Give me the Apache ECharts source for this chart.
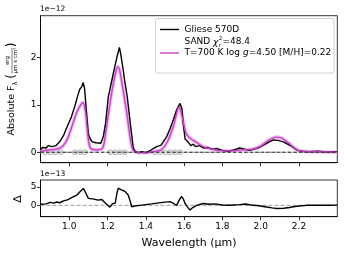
<!DOCTYPE html>
<html><head><meta charset="utf-8">
<script src="https://cdn.jsdelivr.net/npm/echarts@6/dist/echarts.min.js"></script>
<style>html,body{margin:0;padding:0;background:#fff}#c{width:345px;height:259px}</style>
</head><body><div id="c"></div>
<script>
// Observed spectrum (wavelength in µm, flux in 1e-12 erg/µm/s/cm²)
var obsWave = [0.85,0.86,0.87,0.88,0.89,0.90,0.91,0.92,0.93,0.95,0.97,0.99,1.01,1.03,1.045,1.055,1.065,1.073,1.08,1.09,1.10,1.11,1.12,1.13,1.14,1.15,1.165,1.178,1.19,1.204,1.23,1.25,1.262,1.27,1.282,1.29,1.303,1.321,1.335,1.345,1.36,1.38,1.40,1.42,1.44,1.457,1.48,1.509,1.525,1.543,1.56,1.578,1.588,1.597,1.605,1.62,1.635,1.648,1.66,1.68,1.70,1.72,1.75,1.77,1.80,1.83,1.86,1.89,1.91,1.94,1.96,1.99,2.02,2.045,2.066,2.09,2.118,2.14,2.165,2.188,2.21,2.25,2.30,2.35,2.40];
var obsFlux = [0.05,0.10,0.12,0.09,0.14,0.15,0.12,0.16,0.14,0.22,0.35,0.55,0.73,0.98,1.20,1.33,1.38,1.47,1.35,0.85,0.38,0.28,0.22,0.26,0.20,0.22,0.19,0.33,0.62,1.17,1.66,2.02,2.21,2.05,1.73,1.50,1.17,0.54,0.08,0.02,-0.01,0.01,-0.01,0.03,0.08,0.12,0.15,0.33,0.48,0.68,0.88,1.03,0.93,0.55,0.28,0.22,0.14,0.17,0.12,0.14,0.09,0.10,0.06,0.08,0.04,0.02,0.05,0.09,0.07,0.04,0.06,0.10,0.16,0.22,0.26,0.25,0.22,0.17,0.12,0.05,0.02,0.01,0.02,0.00,0.01];
// SAND model spectrum
var modelWave = [0.85,0.90,0.95,0.98,1.00,1.02,1.04,1.06,1.072,1.085,1.095,1.105,1.12,1.15,1.17,1.18,1.19,1.21,1.23,1.245,1.255,1.265,1.28,1.30,1.315,1.33,1.35,1.40,1.45,1.48,1.51,1.54,1.56,1.572,1.582,1.595,1.61,1.63,1.66,1.70,1.75,1.80,1.85,1.90,1.95,2.00,2.04,2.08,2.11,2.15,2.19,2.22,2.30,2.40];
var modelFlux = [0.02,0.05,0.08,0.20,0.38,0.62,0.85,1.00,1.05,0.85,0.45,0.15,0.06,0.05,0.07,0.15,0.40,0.95,1.45,1.72,1.80,1.70,1.35,0.85,0.40,0.08,0.00,-0.01,0.02,0.05,0.20,0.50,0.80,0.95,0.88,0.65,0.40,0.30,0.22,0.12,0.06,0.03,0.03,0.05,0.06,0.13,0.25,0.32,0.30,0.18,0.05,0.02,0.01,0.00];
// Residual (1e-13)
var resWave = [0.85,0.86,0.88,0.90,0.92,0.935,0.95,0.97,0.99,1.00,1.02,1.04,1.056,1.074,1.085,1.10,1.11,1.13,1.15,1.17,1.18,1.195,1.213,1.225,1.24,1.25,1.256,1.27,1.291,1.308,1.318,1.326,1.34,1.37,1.40,1.43,1.457,1.49,1.526,1.545,1.561,1.575,1.587,1.597,1.605,1.615,1.631,1.645,1.666,1.70,1.73,1.76,1.80,1.83,1.857,1.89,1.92,1.95,1.99,2.03,2.06,2.083,2.12,2.15,2.17,2.20,2.24,2.30,2.35,2.40];
var resVal = [0.3,0.6,0.4,0.8,0.6,0.9,0.7,1.2,1.5,1.3,2.3,2.8,3.7,4.6,3.5,1.9,1.6,1.7,1.4,1.6,1.2,0.3,-0.5,0.4,0.6,3.5,4.7,4.3,3.8,2.8,1.2,-0.4,-0.2,0.0,0.2,0.4,0.6,0.8,1.0,0.5,0.0,1.5,2.4,1.6,0.5,-0.3,-1.3,-0.6,0.0,0.5,0.3,0.4,0.1,0.0,0.1,0.2,0.35,0.1,-0.1,-0.45,-0.7,-0.85,-0.8,-0.6,-0.4,-0.2,0.0,0.05,0.0,0.05];
// grey markers on zero line
var markWave = [0.874,0.90,0.926,0.955,1.03,1.056,1.082,1.213,1.239,1.265,1.29,1.448,1.474,1.50,1.526,1.552,1.578];
var xTicks = [1.0,1.2,1.4,1.6,1.8,2.0,2.2];
var yTopTicks = [0,1,2];
var yBotTicks = [0,5];

function pairs(xs, ys){ return xs.map(function(x,i){return [x, ys[i]];}); }
var FONT = 'DejaVu Sans';
var mctx = document.createElement('canvas').getContext('2d');
function tw(t, size, style){ mctx.font = (style||'') + ' ' + size + 'px "' + FONT + '"'; return mctx.measureText(t).width; }

var chart = echarts.init(document.getElementById('c'), null, {renderer:'canvas'});
var axX = function(idx, labels){
  return {gridIndex: idx, type:'value', min:0.85, max:2.4,
    axisLine:{show:true, onZero:false, lineStyle:{color:'#000', width:0.8}},
    axisTick:{show:true, length:3.5, customValues:xTicks, lineStyle:{color:'#000', width:0.8}},
    axisLabel:{show:labels, customValues:xTicks, fontFamily:FONT, fontSize:9, color:'#000', margin:5,
      formatter:function(v){return v.toFixed(1);}},
    splitLine:{show:false}};
};
var axY = function(idx, min, max, ticks){
  return {gridIndex: idx, type:'value', min:min, max:max,
    axisLine:{show:true, onZero:false, lineStyle:{color:'#000', width:0.8}},
    axisTick:{show:true, length:3.5, customValues:ticks, lineStyle:{color:'#000', width:0.8}},
    axisLabel:{show:true, customValues:ticks, fontFamily:FONT, fontSize:9, color:'#000', margin:4},
    splitLine:{show:false}};
};
var MAG = '#cc3ecc';

// y label pieces laid out horizontally (group gets rotated)
var yl = [];
var cx = 0, s1 = 9.5;
yl.push({type:'text', x:cx, y:0, style:{text:'Absolute F', fontFamily:FONT, fontSize:s1, fill:'#000', verticalAlign:'middle'}});
cx += tw('Absolute F', s1);
yl.push({type:'text', x:cx, y:3, style:{text:'\u03bb', fontFamily:FONT, fontSize:6.5, fill:'#000', verticalAlign:'middle'}});
cx += tw('\u03bb', 6.5) + tw(' ', s1);
yl.push({type:'text', x:cx, y:0, style:{text:'(', fontFamily:FONT, fontSize:12, fill:'#000', verticalAlign:'middle'}});
cx += tw('(', 12) + 0.5;
var fw = tw('\u03bcm s cm\u00b2', 5.5);
yl.push({type:'text', x:cx + fw/2, y:-1.2, style:{text:'erg', fontFamily:FONT, fontSize:5.5, fill:'#000', align:'center', verticalAlign:'bottom'}});
yl.push({type:'line', shape:{x1:cx, y1:0, x2:cx+fw, y2:0}, style:{stroke:'#000', lineWidth:0.5}});
yl.push({type:'text', x:cx + fw/2, y:1, style:{text:'\u03bcm s cm\u00b2', fontFamily:FONT, fontSize:5.5, fill:'#000', align:'center', verticalAlign:'top'}});
cx += fw + 0.5;
yl.push({type:'text', x:cx, y:0, style:{text:')', fontFamily:FONT, fontSize:12, fill:'#000', verticalAlign:'middle'}});
cx += tw(')', 12);
var ylLen = cx;

// legend SAND line
var sx = 184.5;
var sandEls = [];
sandEls.push({type:'text', x:sx, y:42, style:{text:'SAND ', fontFamily:FONT, fontSize:9, fill:'#000', verticalAlign:'middle'}, z:11});
sx += tw('SAND ', 9);
sandEls.push({type:'text', x:sx, y:42.5, style:{text:'\u03c7', fontFamily:FONT, fontSize:9, fontStyle:'italic', fill:'#000', verticalAlign:'middle'}, z:11});
sx += tw('\u03c7', 9, 'italic') + 0.3;
sandEls.push({type:'text', x:sx, y:38.8, style:{text:'2', fontFamily:FONT, fontSize:5.5, fill:'#000', verticalAlign:'middle'}, z:11});
sandEls.push({type:'text', x:sx, y:45.5, style:{text:'r', fontFamily:FONT, fontSize:5.5, fontStyle:'italic', fill:'#000', verticalAlign:'middle'}, z:11});
sx += tw('2', 5.5) + 0.3;
sandEls.push({type:'text', x:sx, y:42, style:{text:'=48.4', fontFamily:FONT, fontSize:9, fill:'#000', verticalAlign:'middle'}, z:11});

chart.setOption({
  animation:false,
  grid:[
    {left:40.5, top:15.7, width:296.8, height:147, show:true, borderColor:'#000', borderWidth:0.8, containLabel:false},
    {left:40.5, top:180, width:296.8, height:36.7, show:true, borderColor:'#000', borderWidth:0.8, containLabel:false}
  ],
  xAxis:[axX(0,false), axX(1,true)],
  yAxis:[axY(0,-0.22,2.88,yTopTicks), axY(1,-3.1,6.9,yBotTicks)],
  series:[
    {type:'line', xAxisIndex:0, yAxisIndex:0, data:[[0.85,0],[2.4,0]], symbol:'none', silent:true,
      lineStyle:{color:'#999', width:1.2, type:[4,2]}, z:1},
    {type:'scatter', xAxisIndex:0, yAxisIndex:0, data:markWave.map(function(x){return [x,0];}), symbol:'circle', symbolSize:5,
      itemStyle:{color:'rgba(215,215,215,0.7)', borderColor:'#999', borderWidth:0.8}, z:2},
    {type:'line', xAxisIndex:0, yAxisIndex:0, data:pairs(modelWave, modelFlux), symbol:'none', smooth:0.3,
      lineStyle:{color:'#f0b0f0', width:3.6, opacity:0.85}, z:3},
    {type:'line', xAxisIndex:0, yAxisIndex:0, data:pairs(obsWave, obsFlux), symbol:'none',
      lineStyle:{color:'#000', width:1.4}, z:4},
    {type:'line', xAxisIndex:0, yAxisIndex:0, data:pairs(modelWave, modelFlux), symbol:'none', smooth:0.3,
      lineStyle:{color:MAG, width:1.4}, z:5},
    {type:'line', xAxisIndex:0, yAxisIndex:0, data:[[0.85,0],[2.4,0]], symbol:'none', silent:true,
      lineStyle:{color:'#333', width:1.2, type:[3.5,2]}, z:6},
    {type:'line', xAxisIndex:1, yAxisIndex:1, data:[[0.85,0],[2.4,0]], symbol:'none', silent:true,
      lineStyle:{color:'#999', width:1, type:[4,2]}, z:1},
    {type:'line', xAxisIndex:1, yAxisIndex:1, data:pairs(resWave, resVal), symbol:'none',
      lineStyle:{color:'#000', width:1.4}, z:4}
  ],
  graphic:[
    {type:'text', left:40, top:5, style:{text:'1e\u221212', fontFamily:FONT, fontSize:7.5, fill:'#000'}},
    {type:'text', left:40, top:170, style:{text:'1e\u221213', fontFamily:FONT, fontSize:7.5, fill:'#000'}},
    {type:'text', x:189, y:243, style:{text:'Wavelength (\u03bcm)', fontFamily:FONT, fontSize:11, fill:'#000', align:'center', verticalAlign:'middle'}},
    {type:'text', x:18, y:199, rotation:Math.PI/2, style:{text:'\u0394', fontFamily:FONT, fontSize:11, fill:'#000', align:'center', verticalAlign:'middle'}},
    {type:'group', x:12, y:89 + ylLen/2, rotation:Math.PI/2, children:yl},
    {type:'rect', shape:{x:155.5, y:18.5, width:178.5, height:54.5, r:2}, style:{fill:'rgba(255,255,255,0.8)', stroke:'#d0d0d0', lineWidth:1}, z:10},
    {type:'line', shape:{x1:160, y1:29.5, x2:179, y2:29.5}, style:{stroke:'#000', lineWidth:1.4}, z:11},
    {type:'text', x:184.5, y:29.5, style:{text:'Gliese 570D', fontFamily:FONT, fontSize:9, fill:'#000', verticalAlign:'middle'}, z:11},
    {type:'line', shape:{x1:160, y1:53, x2:179, y2:53}, style:{stroke:MAG, lineWidth:1.4}, z:11},
    {type:'text', x:184.5, y:53, style:{text:'T=700 K log {i|g}=4.50 [M/H]=0.22', fontFamily:FONT, fontSize:9, fill:'#000', verticalAlign:'middle',
      rich:{i:{fontFamily:FONT, fontSize:9, fontStyle:'italic', fill:'#000'}}}, z:11}
  ].concat(sandEls)
});
</script></body></html>
